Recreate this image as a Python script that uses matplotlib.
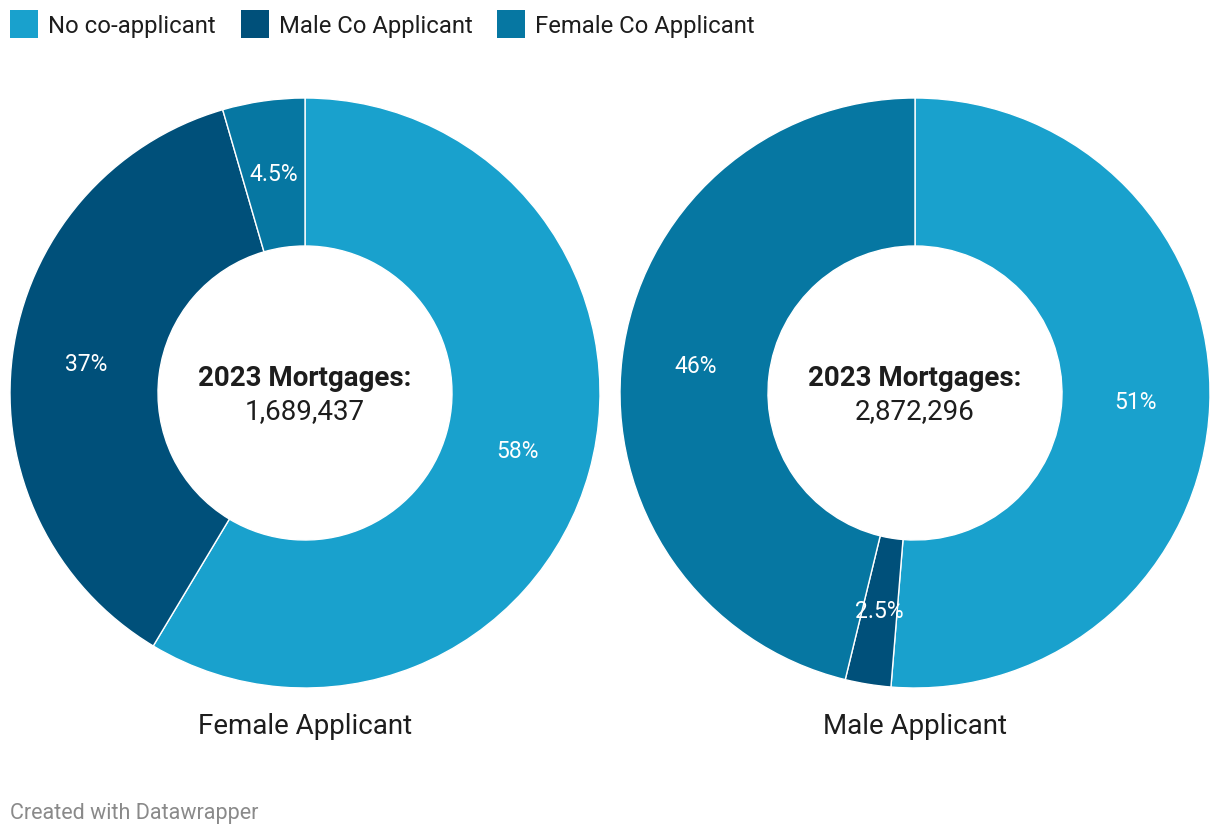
import matplotlib
matplotlib.use("Agg")
import matplotlib.pyplot as plt
from matplotlib.patches import Rectangle

plt.rcParams['font.family'] = ['Roboto', 'DejaVu Sans']

categories = ["No co-applicant", "Male Co Applicant", "Female Co Applicant"]
colors = ["#19a1cd", "#00507a", "#0677a2"]
charts = ["Female Applicant", "Male Applicant"]
values_female = [58.6, 36.9, 4.5]
values_male = [51.3, 2.5, 46.2]
labels_female = ["58%", "37%", "4.5%"]
labels_male = ["51%", "2.5%", "46%"]
totals = ["1,689,437", "2,872,296"]
center_title = "2023 Mortgages:"

W, H = 1220, 836
fig = plt.figure(figsize=(W / 100, H / 100), dpi=100)
ax = fig.add_axes([0, 0, 1, 1])

R_OUT, R_IN = 295, 147
centers = [(305, 393), (915, 393)]
for (cx, cy), vals, labs, name, tot in zip(centers, [values_female, values_male],
                                           [labels_female, labels_male], charts, totals):
    # y axis inverted: counterclock=True in data renders clockwise on screen; start at top
    wedges, texts = ax.pie(vals, colors=colors, center=(cx, cy), radius=R_OUT,
                           startangle=-90, counterclock=True,
                           wedgeprops=dict(width=R_OUT - R_IN, edgecolor='white', linewidth=1),
                           labels=labs, labeldistance=(R_OUT + R_IN) / 2 / R_OUT,
                           textprops=dict(color='white', fontsize=16.5),
                           frame=True)
    for t in texts:
        t.set_ha('center')
        t.set_va('center')
    ax.text(cx, cy - 15, center_title, ha='center', va='center', fontsize=20,
            fontweight='bold', color='#1d1d1d')
    ax.text(cx, cy + 19, tot, ha='center', va='center', fontsize=20, color='#1d1d1d')
    ax.text(cx, 727, name, ha='center', va='center', fontsize=20, color='#1d1d1d')

ax.set_xlim(0, W)
ax.set_ylim(H, 0)
ax.set_aspect('auto')
ax.axis('off')

# legend
lx = 10
for cat, col in zip(categories, colors):
    ax.add_patch(Rectangle((lx, 10), 28, 28, facecolor=col, edgecolor='none'))
    t = ax.text(lx + 38, 26.5, cat, ha='left', va='center', fontsize=17.2, color='#1d1d1d')
    fig.canvas.draw()
    bb = t.get_window_extent()
    lx = bb.x1 + 25

ax.text(10, 814, "Created with Datawrapper", ha='left', va='center', fontsize=15.5, color='#8a8a8a')

fig.savefig("out.png", dpi=100)
